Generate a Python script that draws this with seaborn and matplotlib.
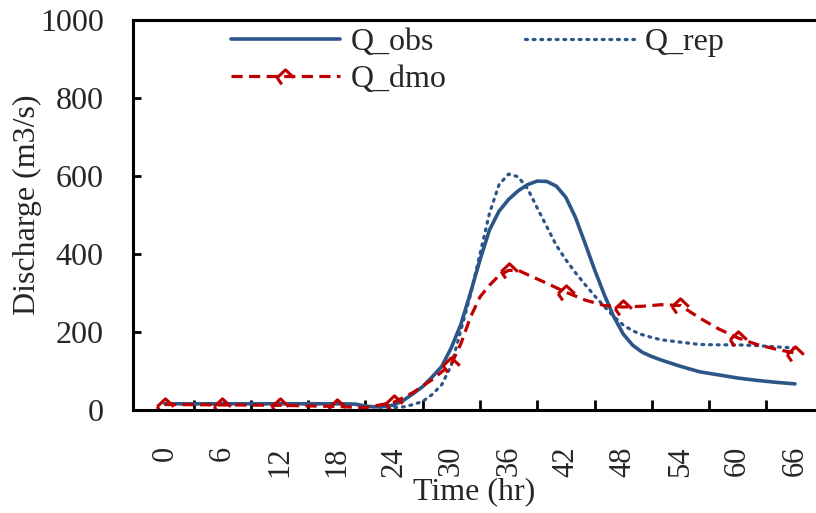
import numpy as np
import pandas as pd
import matplotlib
matplotlib.use("Agg")
import matplotlib.pyplot as plt
from matplotlib.path import Path
from matplotlib.lines import Line2D
import seaborn as sns

# ---- data ----
obs_t = [0, 3, 6, 9, 12, 15, 18, 20, 21, 22, 23, 24, 25, 26, 27, 28, 29, 30, 31, 32, 33, 34,
         35, 36, 37, 38, 39, 40, 41, 42, 43, 44, 45, 46, 47, 48, 49, 50, 51, 52, 53, 54,
         56, 58, 60, 62, 64, 66]
obs_v = [16, 16, 16, 16, 16, 16, 16, 15, 10, 8, 9, 13, 25, 42, 60, 85, 112, 160, 220, 300, 385, 462,
         510, 540, 562, 578, 587, 586, 574, 545, 494, 428, 360, 297, 240, 195, 166, 148, 137, 128, 120, 112,
         98, 90, 82, 76, 71, 67]

rep_t = [0, 3, 6, 9, 12, 15, 18, 20, 22, 24, 25, 26, 27, 28, 29, 30, 31, 32, 33, 34, 35, 36,
         37, 38, 39, 40, 41, 42, 43, 44, 45, 46, 47, 48, 49, 50, 51, 52, 54, 56, 58, 60,
         62, 64, 66]
rep_v = [16, 16, 16, 16, 16, 16, 16, 14, 8, 6, 8, 14, 22, 40, 65, 115, 205, 295, 400, 505, 578, 605,
         598, 567, 518, 470, 422, 385, 352, 322, 293, 266, 240, 218, 203, 193, 186, 180, 174, 168, 167, 167,
         165, 162, 159]

dmo_t = [0, 6, 12, 18, 21, 24, 26, 28, 30, 31, 32, 33, 34, 35, 36, 37, 38, 40, 42, 44, 46, 48, 50,
         52, 54, 56, 58, 60, 62, 64, 66]
dmo_v = [14, 13, 12, 9, 6, 20, 45, 78, 118, 170, 238, 290, 320, 345, 358, 358, 347, 325, 302, 282, 268, 264, 266,
         270, 268, 236, 208, 185, 168, 156, 146]

xtick_labels = [0, 6, 12, 18, 24, 30, 36, 42, 48, 54, 60, 66]
ytick_vals = [0, 200, 400, 600, 800, 1000]

df_obs = pd.DataFrame({"t": obs_t, "Q": obs_v})
df_rep = pd.DataFrame({"t": rep_t, "Q": rep_v})
df_dmo = pd.DataFrame({"t": dmo_t, "Q": dmo_v})
df_dmo_mk = df_dmo[df_dmo["t"].isin(xtick_labels)]

sns.set_theme(style="white")
plt.rcParams["font.family"] = ["Liberation Serif", "DejaVu Serif"]

BLUE = "#2C5687"
RED = "#C00000"
FS = 23
DOT = (0, (0.6, 1.8))
DASH = (0, (3.5, 2.0))

fig = plt.figure(figsize=(8.16, 5.13), dpi=100)
ax = fig.add_axes([133 / 816, 1 - 410 / 513, 1 - 133 / 816, (410 - 20) / 513])

# custom marker (caret with a foot)
mverts = [(-1.0, -0.15), (0.0, 0.8), (1.0, -0.15), (-1.0, -0.15), (-0.45, -0.95)]
mcodes = [Path.MOVETO, Path.LINETO, Path.LINETO, Path.MOVETO, Path.LINETO]
mk = Path(mverts, mcodes)

sns.lineplot(data=df_obs, x="t", y="Q", ax=ax, color=BLUE, lw=2.6, label="Q_obs")
sns.lineplot(data=df_rep, x="t", y="Q", ax=ax, color=BLUE, lw=2.3, label="Q_rep",
             linestyle=DOT, dash_capstyle="round")
sns.lineplot(data=df_dmo, x="t", y="Q", ax=ax, color=RED, lw=2.3, label="_dmo_line",
             linestyle=DASH)
sns.lineplot(data=df_dmo_mk, x="t", y="Q", ax=ax, color=RED, lw=0, label="_dmo_mk",
             marker=mk, markersize=12, markerfacecolor="none", markeredgecolor=RED,
             markeredgewidth=2.2)

ax.set_xlim(-3.35, 68.2)
ax.set_ylim(0, 1000)

ax.set_xticks(xtick_labels)
ax.set_xticklabels([str(v) for v in xtick_labels])
ax.set_xticks(np.arange(3, 64, 6), minor=True)
ax.tick_params(axis="x", which="major", length=0, pad=26, labelsize=FS - 1, labelrotation=90)
ax.tick_params(axis="x", which="minor", direction="in", length=7, width=2, color="black", bottom=True)

ax.set_yticks(ytick_vals)
ax.set_yticklabels([str(v) for v in ytick_vals])
ax.tick_params(axis="y", which="major", direction="in", length=6, width=2, pad=21,
               labelsize=FS, color="black", left=True)

for s in ["left", "bottom", "top"]:
    ax.spines[s].set_visible(True)
    ax.spines[s].set_color("black")
    ax.spines[s].set_linewidth(2.2)
ax.spines["right"].set_visible(False)

ax.set_xlabel("Time (hr)", fontsize=FS)
ax.set_ylabel("Discharge (m3/s)", fontsize=FS)
ax.xaxis.set_label_coords(0.5, -0.173)
ax.yaxis.set_label_coords(-0.133, 0.526)
ax.grid(False)

# legend
h_obs = Line2D([], [], color=BLUE, lw=2.6)
h_rep = Line2D([], [], color=BLUE, lw=2.3, linestyle=DOT, dash_capstyle="round")
h_dmo = Line2D([], [], color=RED, lw=2.3, linestyle=DASH, marker=mk, markersize=12,
               markerfacecolor="none", markeredgecolor=RED, markeredgewidth=2.2)
leg = ax.legend([h_obs, h_dmo, h_rep], ["Q_obs", "Q_dmo", "Q_rep"], ncol=2,
                loc="upper left", bbox_to_anchor=(231 / 816, 1 - 28 / 513),
                bbox_transform=fig.transFigure, frameon=False, fontsize=FS,
                handlelength=3.4, handletextpad=0.35, columnspacing=2.45,
                labelspacing=0.22, borderpad=0, borderaxespad=0)

fig.savefig("out.png", dpi=100)
